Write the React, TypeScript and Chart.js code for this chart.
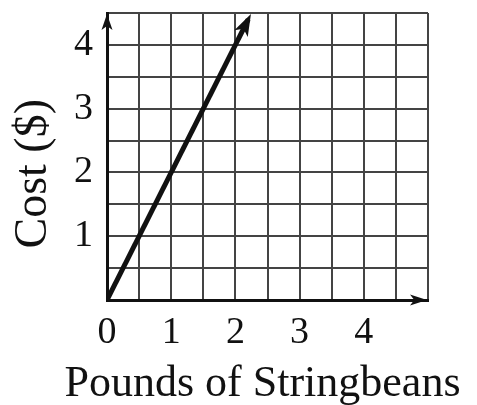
import React, { useEffect, useRef } from "react";
import { Chart, registerables } from "chart.js";

Chart.register(...registerables);

// Data
const xTickValues = [0, 1, 2, 3, 4];
const yTickValues = [1, 2, 3, 4];
const lineX = [0, 2.2];
const lineY = [0, 4.4];
const xTitle = "Pounds of Stringbeans";
const yTitle = "Cost ($)";
const xMax = 5;
const yMax = 4.5;
const gridStep = 0.5;

const FONT = "'Liberation Serif', 'Times New Roman', serif";

const arrowPlugin = {
  id: "arrows",
  afterDatasetsDraw(chart: any) {
    const ctx = chart.ctx;
    const xs = chart.scales.x;
    const ys = chart.scales.y;
    const head = (tipX: number, tipY: number, ux: number, uy: number, len: number, half: number) => {
      const bx = tipX - ux * len;
      const by = tipY - uy * len;
      ctx.beginPath();
      ctx.moveTo(tipX, tipY);
      ctx.lineTo(bx - uy * half, by + ux * half);
      ctx.lineTo(bx + ux * len * 0.25, by + uy * len * 0.25);
      ctx.lineTo(bx + uy * half, by - ux * half);
      ctx.closePath();
      ctx.fill();
    };
    ctx.save();
    ctx.fillStyle = "#111";
    const x0 = xs.getPixelForValue(0);
    const y0 = ys.getPixelForValue(0);
    head(xs.getPixelForValue(xMax) - 1, y0, 1, 0, 17, 5.5);
    head(x0, ys.getPixelForValue(yMax) + 1, 0, -1, 16, 5.5);
    const n = lineX.length - 1;
    const ex = xs.getPixelForValue(lineX[n]);
    const ey = ys.getPixelForValue(lineY[n]);
    const px = xs.getPixelForValue(lineX[n - 1]);
    const py = ys.getPixelForValue(lineY[n - 1]);
    const d = Math.hypot(ex - px, ey - py);
    const ux = (ex - px) / d;
    const uy = (ey - py) / d;
    head(ex + ux * 6, ey + uy * 6, ux, uy, 22, 7.5);
    ctx.restore();
  },
  afterDraw(chart: any) {
    // x-axis title, drawn without the scale's width limit
    const ctx = chart.ctx;
    const xs = chart.scales.x;
    ctx.save();
    ctx.fillStyle = "#111";
    ctx.font = `44px ${FONT}`;
    ctx.textAlign = "center";
    ctx.textBaseline = "alphabetic";
    ctx.fillText(xTitle, (xs.left + xs.right) / 2 - 5, xs.bottom - 9);
    ctx.restore();
  },
};

export default function App() {
  const ref = useRef<HTMLCanvasElement | null>(null);
  useEffect(() => {
    document.body.style.margin = "0";
    const canvas = ref.current!;
    const chart = new Chart(canvas, {
      type: "scatter",
      data: {
        datasets: [
          {
            data: lineX.map((x, i) => ({ x, y: lineY[i] })),
            showLine: true,
            borderColor: "#111",
            borderWidth: 5,
            pointRadius: 0,
            borderCapStyle: "butt",
          } as any,
        ],
      },
      plugins: [arrowPlugin],
      options: {
        animation: false,
        responsive: false,
        maintainAspectRatio: false,
        layout: { padding: { top: 13, right: 49, left: 0, bottom: 0 } },
        plugins: { legend: { display: false }, tooltip: { enabled: false } },
        scales: {
          x: {
            type: "linear",
            min: 0,
            max: xMax,
            afterFit: (s: any) => {
              s.height = 105;
              s.paddingLeft = 0;
              s.paddingRight = 0;
            },
            afterBuildTicks: (s: any) => {
              const t = [];
              for (let v = 0; v <= xMax + 1e-9; v += gridStep) t.push({ value: Math.round(v * 10) / 10 });
              s.ticks = t;
            },
            ticks: {
              autoSkip: false,
              maxRotation: 0,
              padding: 10,
              color: "#111",
              font: { family: FONT, size: 38 },
              callback: (v: any) => (xTickValues.includes(Number(v)) ? String(v) : ""),
            },
            grid: { color: "#444", lineWidth: 2, drawTicks: false },
            border: { color: "#111", width: 3 },
            title: { display: false },
          },
          y: {
            type: "linear",
            min: 0,
            max: yMax,
            afterFit: (s: any) => {
              s.width = 107;
              s.paddingTop = 0;
              s.paddingBottom = 0;
            },
            afterBuildTicks: (s: any) => {
              const t = [];
              for (let v = 0; v <= yMax + 1e-9; v += gridStep) t.push({ value: Math.round(v * 10) / 10 });
              s.ticks = t;
            },
            ticks: {
              autoSkip: false,
              padding: 14,
              color: "#111",
              font: { family: FONT, size: 38 },
              callback: (v: any) => (yTickValues.includes(Number(v)) ? String(v) : ""),
            },
            grid: { color: "#444", lineWidth: 2, drawTicks: false },
            border: { color: "#111", width: 3 },
            title: {
              display: true,
              text: yTitle + "\u00A0\u00A0\u00A0",
              color: "#111",
              font: { family: FONT, size: 46, lineHeight: 1.2 },
              padding: { top: 6, bottom: 0 },
            },
          },
        },
      } as any,
    });
    return () => chart.destroy();
  }, []);
  return (
    <div style={{ width: 477, height: 405 }}>
      <canvas ref={ref} width={477} height={405} style={{ display: "block" }} />
    </div>
  );
}
